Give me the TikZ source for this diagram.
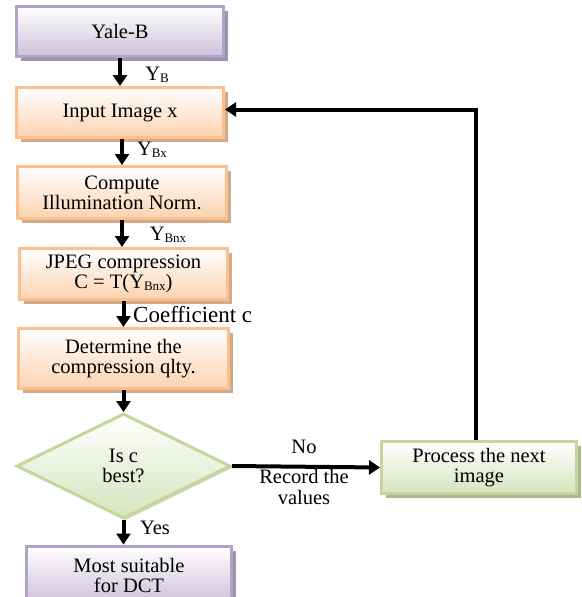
\documentclass[tikz,border=0pt]{standalone}
\usepackage{fontspec}
\setmainfont{Liberation Serif}
\usetikzlibrary{arrows.meta,shapes.geometric,shadows,calc}
\definecolor{pborder}{HTML}{B3A2C7}
\definecolor{pfill}{HTML}{CCC1DA}
\definecolor{pshadow}{HTML}{A093AE}
\definecolor{oborder}{HTML}{FAC08F}
\definecolor{ofill}{HTML}{FCD3B0}
\definecolor{oshadow}{HTML}{D4A987}
\definecolor{gborder}{HTML}{C3D69B}
\definecolor{gfill}{HTML}{D7E4BD}
\definecolor{gshadow}{HTML}{A9B98C}
\tikzset{
  x=1pt, y=-1pt,
  every node/.style={font=\fontsize{20.5}{20}\selectfont, align=center, inner sep=0pt},
  basebox/.style={rectangle, line width=3pt},
  pbox/.style={basebox, draw=pborder, top color=white, bottom color=pfill,
    drop shadow={shadow xshift=4.5pt, shadow yshift=-4.5pt, fill=pshadow, opacity=1}},
  obox/.style={basebox, draw=oborder, top color=white, bottom color=ofill,
    drop shadow={shadow xshift=4.5pt, shadow yshift=-4.5pt, fill=oshadow, opacity=1}},
  gbox/.style={basebox, draw=gborder, top color=white, bottom color=gfill,
    drop shadow={shadow xshift=4pt, shadow yshift=-4pt, fill=gshadow, opacity=1}},
  arr/.style={line width=4pt, -{Triangle[width=14pt,length=11pt]}},
  lbl/.style={font=\fontsize{20.5}{21}\selectfont},
}
\newcommand{\sbs}[1]{\raisebox{-2pt}{\fontsize{13}{13}\selectfont #1}}
\begin{document}
\begin{tikzpicture}
\useasboundingbox (0,0) rectangle (581,597);
\node[pbox, minimum width=207pt, minimum height=50pt] (yale) at (120,31.5) {Yale-B};
\node[obox, minimum width=207pt, minimum height=50pt] (input) at (120,112.5) {Input Image x};
\node[obox, minimum width=209pt, minimum height=52pt] (comp) at (122,192.5) {Compute\\Illumination Norm.};
\node[obox, minimum width=208pt, minimum height=51pt] (jpeg) at (123.5,274) {JPEG compression\\C = T(Y\sbs{Bnx})};
\node[obox, minimum width=210pt, minimum height=60pt] (det) at (123.5,358.5) {Determine the\\compression qlty.};
\node[diamond, line width=3pt, draw=gborder, top color=white, bottom color=gfill,
  minimum width=214pt, minimum height=105pt,
  drop shadow={shadow xshift=2pt, shadow yshift=-2pt, fill=gshadow, opacity=0.6}] (dec) at (123.5,466) {};
\node (dect) at (123.5,466) {Is c\\best?};
\node[gbox, minimum width=195pt, minimum height=52pt] (proc) at (479,467.5) {Process the next\\image};
\node[pbox, minimum width=205pt, minimum height=58pt] (most) at (129,575) {Most suitable\\for DCT};

\draw[arr] (yale.south) -- (input.north);
\draw[arr] ($(input.south)+(2,0)$) -- ($(input.south |- comp.north)+(2,0)$);
\draw[arr] (comp.south) -- (comp.south |- jpeg.north);
\draw[arr] (jpeg.south) -- (det.north);
\draw[arr] (det.south) -- (dec.north);
\draw[arr] (dec.east) -- (proc.west);
\draw[arr] (dec.south) -- (dec.south |- most.north);
\draw[arr] ($(proc.north)+(-3,0)$) |- ($(input.east)+(0,-3)$);

\node[lbl] (lyb) at (157,75) {Y\sbs{B}};
\node[lbl] (lybx) at (152,150) {Y\sbs{Bx}};
\node[lbl] (lybnx) at (168,235) {Y\sbs{Bnx}};
\node[font=\fontsize{23}{23}\selectfont, anchor=west] (lcoef) at (133,315) {Coefficient c};
\node[lbl] (lno) at (304,447) {No};
\node[lbl] (lrec) at (304,487) {Record the\\values};
\node[lbl] (lyes) at (155,528) {Yes};
\end{tikzpicture}
\end{document}
